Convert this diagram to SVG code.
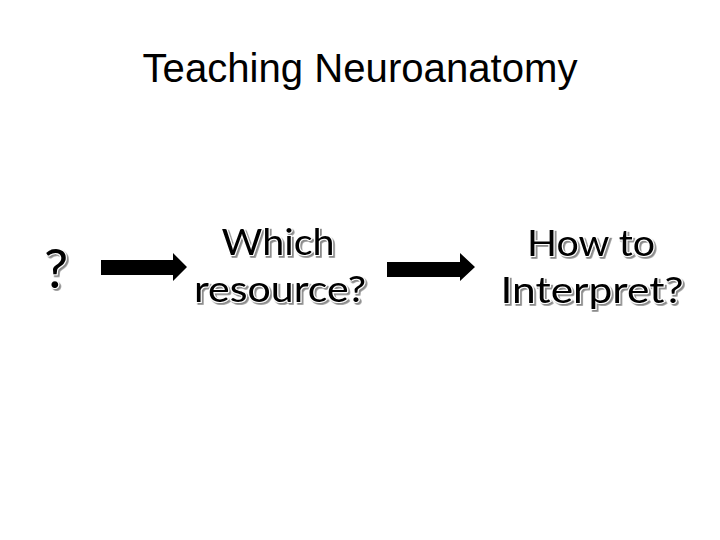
<svg xmlns="http://www.w3.org/2000/svg" width="720" height="540" viewBox="0 0 720 540">
<defs>
<filter id="shadow" x="-10%" y="-10%" width="130%" height="130%">
<feDropShadow dx="1.8" dy="1.8" stdDeviation="0.3" flood-color="#8a8a8a" flood-opacity="1"/>
</filter>
</defs>
<style>
.title{font-family:"Liberation Sans",Arial,sans-serif;font-size:40px;fill:#000}
.lbl{font-family:Lato,"Open Sans",sans-serif;font-size:37px;text-anchor:middle;fill:#000;stroke:#fff;stroke-width:2.2px;paint-order:stroke;filter:url(#shadow)}
.q{font-size:54px}
.arr{fill:#000}
</style>
<rect width="720" height="540" fill="#fff"/>
<g id="title"><text class="title" x="360" y="82" text-anchor="middle" textLength="435" lengthAdjust="spacingAndGlyphs">Teaching Neuroanatomy</text></g>
<g id="n1">
<text class="lbl q" x="56" y="288">?</text>
</g>
<g id="n2">
<text class="lbl" x="278" y="255" textLength="113" lengthAdjust="spacingAndGlyphs">Which</text>
<text class="lbl" x="280" y="302" textLength="172" lengthAdjust="spacingAndGlyphs">resource?</text>
</g>
<g id="n3">
<text class="lbl" x="591" y="256" textLength="128" lengthAdjust="spacingAndGlyphs">How to</text>
<text class="lbl" x="592" y="303" textLength="183" lengthAdjust="spacingAndGlyphs">Interpret?</text>
</g>
<g id="connectors">
<polygon class="arr" points="101,260 173,260 173,253 187,267 173,281 173,275 101,275"/>
<polygon class="arr" points="387,262 460,262 460,253 475,267 460,281 460,277 387,277"/>
</g>
</svg>
